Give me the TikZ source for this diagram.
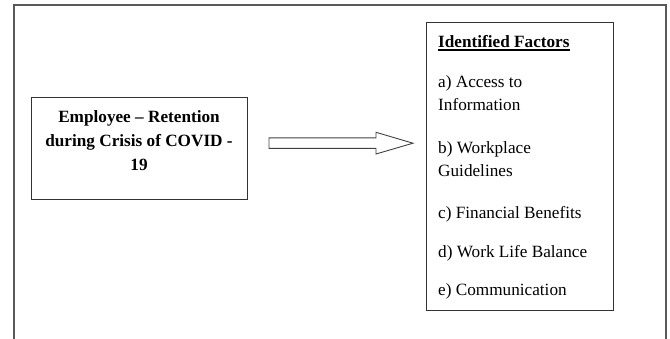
\documentclass[tikz,border=0pt]{standalone}
\usepackage{fontspec}
\setmainfont{Liberation Serif}
\usetikzlibrary{positioning}
\begin{document}
\begin{tikzpicture}[x=1pt,y=-1pt,
  frameline/.style={draw=black!65,line width=1.3pt},
  boxline/.style={draw=black!80,line width=1pt},
  txt/.style={inner sep=0pt,anchor=base west,font=\fontsize{17.2}{22}\selectfont},
  btxt/.style={inner sep=0pt,anchor=base,font=\fontsize{17.2}{22}\selectfont\bfseries}]
\useasboundingbox (0,0) rectangle (670,338);
% outer frame (bottom cut off)
\coordinate (fbl) at (14,345);
\coordinate (ftl) at (14,5);
\coordinate (ftr) at (666,5);
\coordinate (fbr) at (666,345);
\draw[frameline] (fbl) -- (ftl) -- (ftr) -- (fbr);
% left box
\node[boxline,minimum width=216pt,minimum height=102pt,inner sep=0pt] (left) at (139,148) {};
\node[btxt] (l1) at (139,122.7) {Employee – Retention};
\node[btxt] (l2) at (139,146.5) {during Crisis of COVID -};
\node[btxt] (l3) at (139,170) {19};
% right box
\node[boxline,minimum width=187pt,minimum height=288pt,inner sep=0pt] (right) at (519.5,166) {};
\node[txt,font=\fontsize{17.2}{22}\selectfont\bfseries] (h) at (438,47) {Identified Factors};
\draw[line width=1.1pt] ([yshift=-3pt]h.base west) -- ([yshift=-3pt]h.base east);
\node[txt] (a1) at (438,87) {a) Access to};
\node[txt] (a2) at (438,110) {Information};
\node[txt] (b1) at (438,153) {b) Workplace};
\node[txt] (b2) at (438,176) {Guidelines};
\node[txt] (c) at (438,218) {c) Financial Benefits};
\node[txt] (d) at (438,257) {d) Work Life Balance};
\node[txt] (e) at (438,295) {e) Communication};
% block arrow
\coordinate (s1) at (269,137.8);
\coordinate (s2) at (376,137.8);
\coordinate (h1) at (376,132.3);
\coordinate (tip) at (413,143.2);
\coordinate (h2) at (376,154);
\coordinate (s3) at (376,148.4);
\coordinate (s4) at (269,148.4);
\draw[draw=black!75,line width=0.9pt,line join=miter] (s1) -- (s2) -- (h1) -- (tip) -- (h2) -- (s3) -- (s4) -- cycle;
\end{tikzpicture}
\end{document}
